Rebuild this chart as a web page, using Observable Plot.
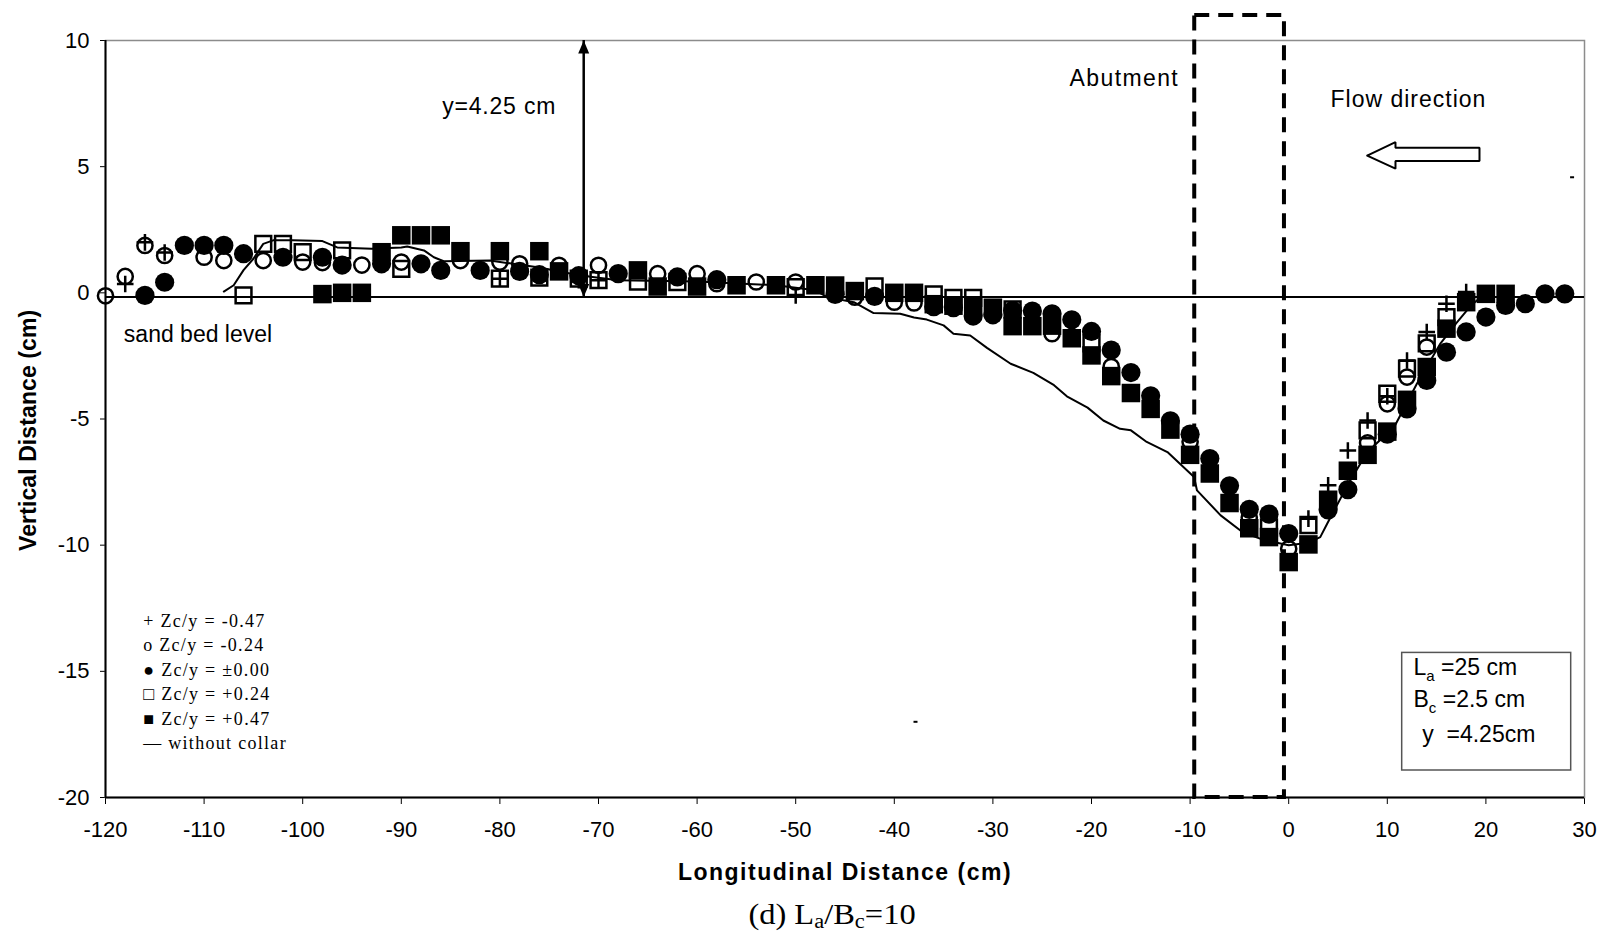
<!DOCTYPE html>
<html>
<head>
<meta charset="utf-8">
<script src="https://cdn.jsdelivr.net/npm/d3@7"></script>
<script src="https://cdn.jsdelivr.net/npm/@observablehq/plot@0.6"></script>
<style>
  html, body { margin: 0; background: #fff; overflow: hidden; }
  #wrap { position: relative; width: 1616px; height: 936px; overflow: hidden; }
  #caption { position: absolute; left: 832px; top: 893px; transform: translateX(-50%) scaleX(1.12);
    font-family: "Liberation Serif", "Times New Roman", serif; font-size: 29px; line-height: 42px; white-space: nowrap; color: #000; }
  #caption sub { font-size: 20px; vertical-align: -4px; line-height: 0; }
</style>
</head>
<body>
<div id="wrap"><div id="caption">(d) L<sub>a</sub>/B<sub>c</sub>=10</div></div>
<script>
// ---------- data ----------
const xTicks = [-120,-110,-100,-90,-80,-70,-60,-50,-40,-30,-20,-10,0,10,20,30];
const yTicks = [-20,-15,-10,-5,0,5,10];

// + Zc/y = -0.47
const plusX = [-118,-116,-114,-80,-72,-70,-50,2,4,6,8,10,12,14,16,18];
const plusY = [0.35,2.0,1.6,0.56,0.5,0.5,-0.1,-8.95,-7.63,-6.25,-5.06,-4.1,-2.68,-1.55,-0.43,0.03];

// o Zc/y = -0.24
const openCircleX = [-120,-118,-116,-114,-110,-108,-104,-100,-98,-94,-90,-84,-80,-78,-74,-70,-64,-60,-58,-54,-50,-44,-40,-38,-24,-18,-10,-4,0,8,10,12,14];
const openCircleY = [-0.12,0.65,1.88,1.48,1.41,1.28,1.28,1.22,1.2,1.1,1.22,1.28,1.22,1.15,1.09,1.09,0.76,0.76,0.36,0.43,0.43,-0.17,-0.37,-0.4,-1.62,-2.92,-5.9,-8.9,-10.14,-5.95,-4.4,-3.34,-2.15];

// ● Zc/y = ±0.00
const filledCircleX = [-116,-114,-112,-110,-108,-106,-102,-98,-96,-92,-88,-86,-82,-78,-76,-72,-68,-62,-58,-46,-42,-36,-34,-32,-30,-28,-26,-24,-22,-20,-18,-16,-14,-12,-10,-8,-6,-4,-2,0,4,6,10,12,14,16,18,20,22,24,26,28];
const filledCircleY = [-0.1,0.42,1.88,1.88,1.88,1.55,1.41,1.41,1.1,1.15,1.15,0.89,0.89,0.85,0.72,0.68,0.76,0.63,0.52,-0.06,-0.14,-0.55,-0.59,-0.92,-0.87,-0.7,-0.72,-0.83,-1.07,-1.53,-2.27,-3.16,-4.08,-5.07,-5.6,-6.57,-7.65,-8.58,-8.77,-9.54,-8.6,-7.8,-5.6,-4.6,-3.47,-2.35,-1.55,-0.96,-0.5,-0.43,-0.04,-0.04];

// □ Zc/y = +0.24
const openSquareX = [-106,-104,-102,-100,-96,-90,-80,-76,-72,-70,-66,-62,-50,-42,-36,-34,-32,-28,-20,-2,2,8,10,12,14,16];
const openSquareY = [-0.1,1.94,1.94,1.61,1.68,0.95,0.56,0.6,0.56,0.5,0.45,0.43,0.23,0.25,-0.06,-0.2,-0.2,-0.66,-2.0,-9.3,-9.2,-5.45,-4.0,-3.0,-2.0,-0.96];

// ■ Zc/y = +0.47
const filledSquareX = [-98,-96,-94,-92,-90,-88,-86,-84,-80,-76,-74,-66,-64,-60,-56,-52,-48,-46,-44,-40,-38,-36,-34,-32,-30,-28,-26,-24,-22,-20,-18,-16,-14,-12,-10,-8,-6,-4,-2,0,2,4,6,8,10,12,14,16,18,20,22];
const filledSquareY = [-0.05,0,0,1.61,2.28,2.28,2.28,1.65,1.65,1.65,0.85,0.89,0.25,0.25,0.3,0.3,0.3,0.29,0.07,0.0,0.0,-0.45,-0.51,-0.54,-0.59,-1.32,-1.32,-1.3,-1.8,-2.48,-3.3,-3.97,-4.6,-5.42,-6.42,-7.16,-8.33,-9.33,-9.68,-10.67,-9.97,-8.2,-7.05,-6.42,-5.5,-4.24,-2.94,-1.42,-0.37,-0.04,-0.04];

// — without collar
const noCollarX = [-108,-107,-106,-105,-104,-103,-101,-98,-96.5,-93,-90,-89.4,-87.7,-86.7,-85.7,-81,-76,-72,-68,-60,-52,-48,-46.8,-44.1,-42.1,-39.4,-38,-36.7,-35,-34,-32.3,-30.6,-28.2,-25.9,-23.8,-22.5,-20.4,-18.8,-17.1,-16,-14.4,-12.3,-9.6,-9.3,-6.9,-4.7,-2.5,0,2,3.2,3.9,6,8,10.7,13,15.4,17,18.5,20];
const noCollarY = [0.05,0.3,0.9,1.35,1.94,2.08,2.08,2.05,1.8,1.75,1.8,1.84,1.68,1.41,1.25,1.28,1.0,0.7,0.5,0.45,0.3,0.1,-0.17,-0.37,-0.8,-0.83,-0.98,-1.06,-1.29,-1.62,-1.69,-2.18,-2.81,-3.17,-3.66,-4.1,-4.55,-5.06,-5.39,-5.45,-5.91,-6.31,-7.3,-7.83,-8.82,-9.48,-9.8,-10.0,-9.9,-9.68,-9.15,-7.6,-6.3,-5.32,-3.6,-2.0,-1.2,-0.5,0];

const legendLines = ["+ Zc/y = -0.47", "o Zc/y = -0.24", "\u25CF Zc/y = \u00B10.00", "\u25A1 Zc/y = +0.24", "\u25A0 Zc/y = +0.47", "\u2014 without collar"];
const paramParts = [["L", "a", " =25 cm"], ["B", "c", " =2.5 cm"], ["y  =4.25cm"]];
const sandBedLevel = -0.17;
const flowDepth = 10;

// ---------- annotations (positions in data units) ----------
const abutment = [{x1: -9.53, x2: -0.43, y1: -20, y2: 10.99}];
const paramBox = [{x1: 11.51, x2: 28.65, y1: -14.27, y2: -18.93}];
const depthArrow = {x: -71.5, y1: sandBedLevel, y2: flowDepth};
const flowArrow = [
  {x: 7.96, y: 5.44}, {x: 10.83, y: 5.97}, {x: 10.83, y: 5.75}, {x: 19.35, y: 5.75},
  {x: 19.35, y: 5.22}, {x: 10.83, y: 5.22}, {x: 10.83, y: 4.92}, {x: 7.96, y: 5.44}
];
const annotations = [
  {x: -85.85, y: 7.39, t: "y=4.25 cm"},
  {x: -22.23, y: 8.47, t: "Abutment"},
  {x: 4.24, y: 7.65, t: "Flow direction"},
  {x: -118.14, y: -1.66, t: "sand bed level"}
];
const paramText = [
  {x: 12.66, y: -14.87, t: "La =25 cm"},
  {x: 12.66, y: -16.13, t: "Bc =2.5 cm"},
  {x: 13.54, y: -17.52, t: "y  =4.25cm"}
];
const strayDashes = [{x: 28.74, y: 4.58}, {x: -37.85, y: -17.0}];

// letter spacing (px) that mimics the wide text of the original
const spacing = {"y=4.25 cm": 0.8, "Abutment": 1.4, "Flow direction": 1.0, "sand bed level": 0,
  "Longitudinal Distance (cm)": 1.5, "Vertical Distance (cm)": 0.1};

// ---------- helpers ----------
const zipXY = (xs, ys) => xs.map((x, i) => ({x, y: ys[i]}));
const plusPts = zipXY(plusX, plusY);
const openCirclePts = zipXY(openCircleX, openCircleY);
const filledCirclePts = zipXY(filledCircleX, filledCircleY);
const openSquarePts = zipXY(openSquareX, openSquareY);
const filledSquarePts = zipXY(filledSquareX, filledSquareY);
const noCollarPts = zipXY(noCollarX, noCollarY);

const rOf = (size) => Math.sqrt(size / Math.PI);
const squareSym = {draw(ctx, size) { const r = rOf(size); ctx.rect(-r, -r, 2 * r, 2 * r); }};
const plusSym = {draw(ctx, size) { const r = rOf(size); ctx.moveTo(-r, 0); ctx.lineTo(r, 0); ctx.moveTo(0, -r); ctx.lineTo(0, r); }};
const upTri = {draw(ctx) { ctx.moveTo(0, 0); ctx.lineTo(-5.5, 13); ctx.lineTo(5.5, 13); ctx.closePath(); }};
const downTri = {draw(ctx) { ctx.moveTo(0, 0); ctx.lineTo(-5.5, -13); ctx.lineTo(5.5, -13); ctx.closePath(); }};
const dashSym = {draw(ctx) { ctx.rect(-2, -1, 4, 2); }};

const svg = Plot.plot({
  width: 1616,
  height: 890,
  marginLeft: 105,
  marginRight: 32,
  marginTop: 40,
  marginBottom: 93,
  style: {fontFamily: "'Liberation Sans', Arial, sans-serif", fontSize: "22px", color: "#000", background: "#fff"},
  x: {domain: [-120, 30], ticks: xTicks, tickFormat: (d) => String(d), tickSize: 7, tickPadding: 17, label: null},
  y: {domain: [-20, 10], ticks: yTicks, tickFormat: (d) => String(d), tickSize: 5, tickPadding: 11, label: null},
  marks: [
    Plot.frame({stroke: "#8c8c8c", strokeWidth: 1.5}),
    Plot.ruleY([sandBedLevel], {stroke: "#000", strokeWidth: 2}),
    Plot.ruleX([-120], {stroke: "#000", strokeWidth: 2}),
    Plot.ruleY([-20], {stroke: "#000", strokeWidth: 2}),
    // abutment outline
    Plot.rect(abutment, {x1: "x1", x2: "x2", y1: "y1", y2: "y2", fill: "none", stroke: "#000", strokeWidth: 4, strokeDasharray: "15,9"}),
    // parameter box
    Plot.rect(paramBox, {x1: "x1", x2: "x2", y1: "y1", y2: "y2", fill: "none", stroke: "#555", strokeWidth: 1.5}),
    // depth arrow
    Plot.ruleX([depthArrow], {x: "x", y1: "y1", y2: "y2", stroke: "#000", strokeWidth: 2.5}),
    Plot.dot([depthArrow], {x: "x", y: "y2", symbol: upTri, fill: "#000", stroke: "none"}),
    Plot.dot([depthArrow], {x: "x", y: "y1", symbol: downTri, fill: "#000", stroke: "none"}),
    // flow direction arrow
    Plot.line(flowArrow, {x: "x", y: "y", stroke: "#000", strokeWidth: 2, curve: "linear", strokeLinejoin: "miter"}),
    // data series
    Plot.dot(plusPts, {x: "x", y: "y", symbol: plusSym, r: 8.3, fill: "none", stroke: "#000", strokeWidth: 2.5}),
    Plot.dot(openCirclePts, {x: "x", y: "y", r: 7.6, fill: "none", stroke: "#000", strokeWidth: 2.5}),
    Plot.dot(openSquarePts, {x: "x", y: "y", symbol: squareSym, r: 7.9, fill: "none", stroke: "#000", strokeWidth: 2.5}),
    Plot.dot(filledCirclePts, {x: "x", y: "y", r: 9.6, fill: "#000", stroke: "none"}),
    Plot.dot(filledSquarePts, {x: "x", y: "y", symbol: squareSym, r: 9.25, fill: "#000", stroke: "none"}),
    Plot.line(noCollarPts, {x: "x", y: "y", stroke: "#000", strokeWidth: 2}),
    Plot.dot(strayDashes, {x: "x", y: "y", symbol: dashSym, fill: "#000", stroke: "none"}),
    // texts
    Plot.text(annotations, {x: "x", y: "y", text: "t", textAnchor: "start", lineAnchor: "middle", fontSize: 23, fill: "#000"}),
    Plot.text(paramText, {x: "x", y: "y", text: "t", textAnchor: "start", lineAnchor: "middle", fontSize: 23, fill: "#000"}),
    Plot.text([legendLines.join("\n")], {x: () => -116.18, y: () => -12.54, text: (d) => d, textAnchor: "start", lineAnchor: "top", lineHeight: 1.36, fontSize: 18, fontFamily: "'Liberation Serif', 'Times New Roman', serif", fill: "#000"}),
    Plot.text(["Longitudinal Distance (cm)"], {x: () => -45, y: () => -22.96, text: (d) => d, textAnchor: "middle", lineAnchor: "middle", fontSize: 23, fontWeight: "bold", fill: "#000"}),
    Plot.text(["Vertical Distance (cm)"], {x: () => -127.8, y: () => -5.45, text: (d) => d, rotate: -90, textAnchor: "middle", lineAnchor: "middle", fontSize: 23, fontWeight: "bold", fill: "#000"})
  ]
});

document.getElementById("wrap").prepend(svg);

// post-processing of the rendered text: spacing and subscripts
d3.select(svg).selectAll("text").each(function () {
  const s = this.textContent;
  if (Object.prototype.hasOwnProperty.call(spacing, s)) this.style.letterSpacing = spacing[s] + "px";
  if (s.startsWith(legendLines[0])) this.style.letterSpacing = "1.3px";
  const pi = paramText.findIndex((p) => p.t === s);
  if (pi >= 0) {
    const parts = paramParts[pi];
    const t = d3.select(this);
    t.text(null);
    t.append("tspan").text(parts[0]);
    if (parts.length > 1) {
      t.append("tspan").attr("dy", 6).attr("font-size", 15).text(parts[1]);
      t.append("tspan").attr("dy", -6).text(parts[2]);
    }
  }
});
</script>
</body>
</html>
